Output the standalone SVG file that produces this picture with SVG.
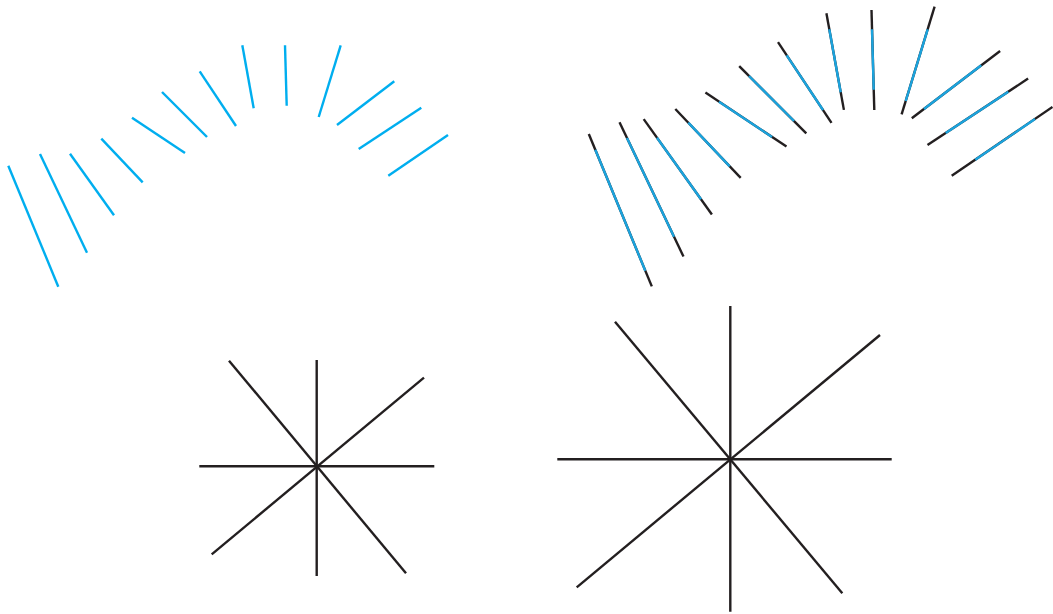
<svg xmlns="http://www.w3.org/2000/svg" width="1053" height="614" viewBox="0 0 1053 614">
<defs>
<style>
.b{stroke:#00AEEF;stroke-width:2.4;fill:none}
.b2{stroke:#1BA3DD;stroke-width:2.4;fill:none}
.k{stroke:#231F20;stroke-width:2.4;fill:none}
</style>
</defs>
<rect width="1053" height="614" fill="#fff"/>
<g id="segments-left">
<line class="b" x1="8.3" y1="165.7" x2="58.3" y2="286.7"/>
<line class="b" x1="40" y1="154" x2="87" y2="252.7"/>
<line class="b" x1="70" y1="153.7" x2="114" y2="215.3"/>
<line class="b" x1="101.3" y1="138.7" x2="142.7" y2="182.3"/>
<line class="b" x1="132" y1="117.7" x2="185" y2="153"/>
<line class="b" x1="162" y1="92" x2="207" y2="137"/>
<line class="b" x1="199.7" y1="71.3" x2="236" y2="126"/>
<line class="b" x1="242.3" y1="45.3" x2="253.7" y2="108.3"/>
<line class="b" x1="285" y1="45.3" x2="286.7" y2="105.7"/>
<line class="b" x1="340.7" y1="45.3" x2="318.7" y2="117"/>
<line class="b" x1="394.3" y1="81.3" x2="337" y2="125"/>
<line class="b" x1="421.3" y1="107.7" x2="358.7" y2="149"/>
<line class="b" x1="448" y1="135" x2="388.3" y2="175.7"/>
</g>
<g id="segments-right">
<g id="extensions">
<line class="k" x1="588.8" y1="134" x2="651.8" y2="286.4"/>
<line class="k" x1="619.5" y1="122.2" x2="683.5" y2="256.6"/>
<line class="k" x1="643.7" y1="119.1" x2="711.9" y2="214.5"/>
<line class="k" x1="675.3" y1="109" x2="740.7" y2="177.9"/>
<line class="k" x1="705.4" y1="92.6" x2="786.5" y2="146.6"/>
<line class="k" x1="739.2" y1="66.2" x2="806.3" y2="133.3"/>
<line class="k" x1="778" y1="42.2" x2="831.5" y2="122.8"/>
<line class="k" x1="826.4" y1="13.3" x2="843.9" y2="109.9"/>
<line class="k" x1="871.5" y1="10" x2="874.3" y2="110"/>
<line class="k" x1="934.6" y1="6.6" x2="901.6" y2="114.4"/>
<line class="k" x1="1000.1" y1="51" x2="911.8" y2="118.3"/>
<line class="k" x1="1028.1" y1="78.6" x2="927.5" y2="145"/>
<line class="k" x1="1052.5" y1="107" x2="951.7" y2="175.8"/>
</g>
<g id="copies" transform="translate(587,-16)">
<line class="b2" x1="8.3" y1="165.7" x2="58.3" y2="286.7"/>
<line class="b2" x1="40" y1="154" x2="87" y2="252.7"/>
<line class="b2" x1="70" y1="153.7" x2="114" y2="215.3"/>
<line class="b2" x1="101.3" y1="138.7" x2="142.7" y2="182.3"/>
<line class="b2" x1="132" y1="117.7" x2="185" y2="153"/>
<line class="b2" x1="162" y1="92" x2="207" y2="137"/>
<line class="b2" x1="199.7" y1="71.3" x2="236" y2="126"/>
<line class="b2" x1="242.3" y1="45.3" x2="253.7" y2="108.3"/>
<line class="b2" x1="285" y1="45.3" x2="286.7" y2="105.7"/>
<line class="b2" x1="340.7" y1="45.3" x2="318.7" y2="117"/>
<line class="b2" x1="394.3" y1="81.3" x2="337" y2="125"/>
<line class="b2" x1="421.3" y1="107.7" x2="358.7" y2="149"/>
<line class="b2" x1="448" y1="135" x2="388.3" y2="175.7"/>
</g>
</g>
<g id="star-left">
<line class="k" x1="316.7" y1="360" x2="316.7" y2="576"/>
<line class="k" x1="199.3" y1="466.3" x2="434.3" y2="466.3"/>
<line class="k" x1="229" y1="360.7" x2="406" y2="573.3"/>
<line class="k" x1="424" y1="377.7" x2="211.7" y2="554.3"/>
</g>
<g id="star-right">
<line class="k" x1="730.3" y1="306" x2="730.3" y2="611.7"/>
<line class="k" x1="557.3" y1="459.3" x2="891.7" y2="459.3"/>
<line class="k" x1="615" y1="321.7" x2="842.3" y2="593.3"/>
<line class="k" x1="880" y1="335" x2="576.7" y2="587.3"/>
</g>
</svg>
